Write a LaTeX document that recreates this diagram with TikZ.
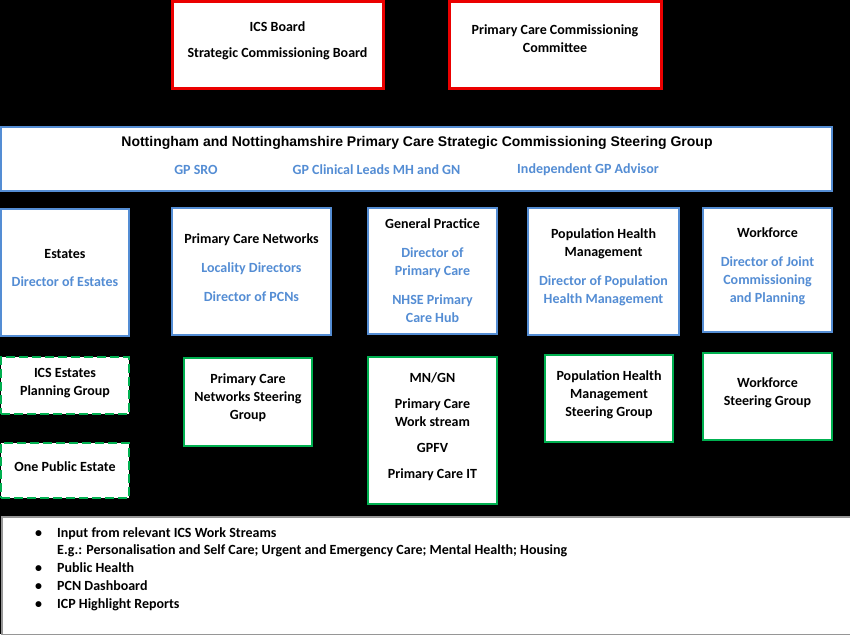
\documentclass[tikz,border=0pt]{standalone}
\usepackage{fontspec}
\setmainfont{Carlito}
\newfontfamily\arialfont{Liberation Sans}
\definecolor{boxred}{RGB}{235,0,0}
\definecolor{boxblue}{RGB}{84,141,212}
\definecolor{boxgreen}{RGB}{0,176,80}
\definecolor{boxgrey}{RGB}{150,150,150}
\newcommand{\role}[1]{\textcolor{boxblue}{#1}}
\tikzset{
 box/.style={draw, fill=white, line width=2.5pt, inner sep=0pt},
 redbox/.style={box, draw=boxred, line width=3pt},
 bluebox/.style={box, draw=boxblue},
 greenbox/.style={box, draw=boxgreen},
 dashbox/.style={greenbox, dash pattern=on 9pt off 4pt},
 boxtext/.style={align=center, inner sep=0pt, yshift=4pt,
  font=\bfseries\fontsize{14}{18}\selectfont},
 label text/.style={inner sep=0pt, font=\bfseries\fontsize{14}{18}\selectfont},
}

\begin{document}
\begin{tikzpicture}[x=1pt, y=1pt]
 \useasboundingbox (0,0) rectangle (850,-634);
 \fill[black] (0,0) rectangle (850,-634);
 % boards
 \node[redbox, minimum width=211pt, minimum height=86pt] (icsboard) at (277.5,-45) {};
 \node[boxtext] at (icsboard) {ICS Board\\[8pt]Strategic Commissioning Board};
 \node[redbox, minimum width=212pt, minimum height=86pt] (pccc) at (555,-45) {};
 \node[boxtext, yshift=2pt] at (pccc) {Primary Care Commissioning\\Committee};
 % steering group
 \node[bluebox, minimum width=831pt, minimum height=64pt] (steering) at (416.5,-159) {};
 \node[label text, font=\arialfont\bfseries\fontsize{14}{16}\selectfont] (steertitle) at (417,-142.5)
  {Nottingham and Nottinghamshire Primary Care Strategic Commissioning Steering Group};
 \node[label text, text=boxblue] (gpsro) at (196,-170) {GP SRO};
 \node[label text, text=boxblue] (gpleads) at (376.5,-170) {GP Clinical Leads MH and GN};
 \node[label text, text=boxblue] (gpadvisor) at (588,-170) {Independent GP Advisor};
 % work areas
 \node[bluebox, minimum width=128pt, minimum height=127pt] (estates) at (65,-272.5) {};
 \node[boxtext] at (estates) {Estates\\[10pt]\role{Director of Estates}};
 \node[bluebox, minimum width=159pt, minimum height=127pt] (pcn) at (251.5,-271.5) {};
 \node[boxtext] at (pcn)
  {Primary Care Networks\\[11pt]\role{Locality Directors}\\[11pt]\role{Director of PCNs}};
 \node[bluebox, minimum width=129pt, minimum height=126pt] (gp) at (432.5,-271) {};
 \node[boxtext, yshift=-4pt] at (gp)
  {General Practice\\[11pt]\role{Director of}\\\role{Primary Care}\\[11pt]\role{NHSE Primary}\\\role{Care Hub}};
 \node[bluebox, minimum width=151pt, minimum height=127pt] (phm) at (603.5,-271.5) {};
 \node[boxtext] at (phm)
  {Population Health\\Management\\[11pt]\role{Director of Population}\\\role{Health Management}};
 \node[bluebox, minimum width=129pt, minimum height=124pt] (workforce) at (767.5,-270) {};
 \node[boxtext] at (workforce)
  {Workforce\\[11pt]\role{Director of Joint}\\\role{Commissioning}\\\role{and Planning}};
 % groups
 \node[dashbox, minimum width=128pt, minimum height=57pt] (estplan) at (65,-385.5) {};
 \node[boxtext, yshift=-2pt] at (estplan) {ICS Estates\\Planning Group};
 \node[dashbox, minimum width=128pt, minimum height=55pt] (onepublic) at (65,-470.5) {};
 \node[boxtext] at (onepublic) {One Public Estate};
 \node[greenbox, minimum width=128pt, minimum height=88pt] (pcnsteer) at (248,-402) {};
 \node[boxtext] at (pcnsteer) {Primary Care\\Networks Steering\\Group};
 \node[greenbox, minimum width=129pt, minimum height=147pt] (mngn) at (432.5,-430.5) {};
 \node[boxtext] at (mngn) {MN/GN\\[8pt]Primary Care\\Work stream\\[8pt]GPFV\\[8pt]Primary Care IT};
 \node[greenbox, minimum width=128pt, minimum height=87pt] (phmsteer) at (609,-398.5) {};
 \node[boxtext] at (phmsteer) {Population Health\\Management\\Steering Group};
 \node[greenbox, minimum width=129pt, minimum height=87pt] (wfsteer) at (767.5,-396.5) {};
 \node[boxtext] at (wfsteer) {Workforce\\Steering Group};
 % inputs
 \node[draw=boxgrey, fill=white, line width=1.5pt, minimum width=849pt, minimum height=118pt] (inputs) at (426.5,-576) {};
 \node[label text, align=left, anchor=north west, font=\bfseries\fontsize{14}{17.75}\selectfont] (inputlist) at (35,-527)
  {\makebox[22pt][l]{\textbullet}Input from relevant ICS Work Streams\\
   \makebox[22pt][l]{}E.g.: Personalisation and Self Care; Urgent and Emergency Care; Mental Health; Housing\\
   \makebox[22pt][l]{\textbullet}Public Health\\
   \makebox[22pt][l]{\textbullet}PCN Dashboard\\
   \makebox[22pt][l]{\textbullet}ICP Highlight Reports};
\end{tikzpicture}
\end{document}
